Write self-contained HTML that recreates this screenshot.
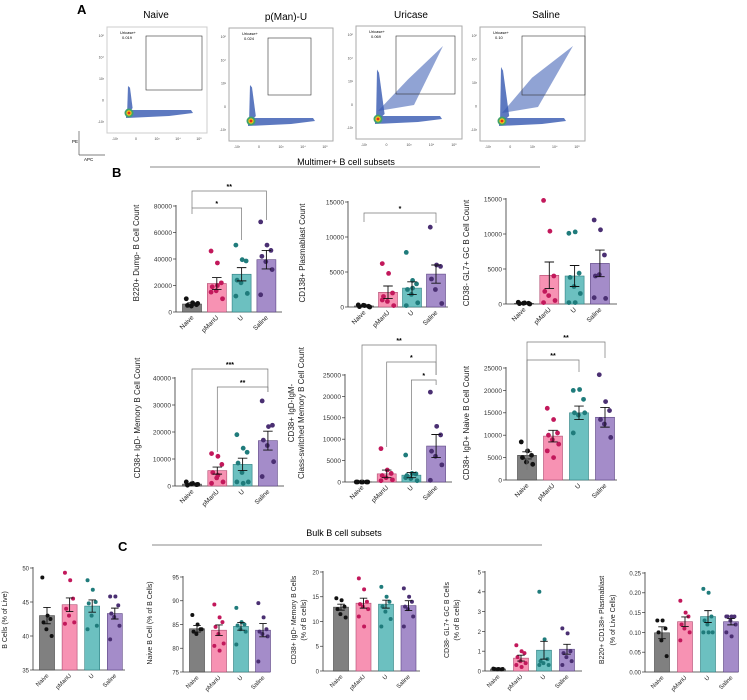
<!DOCTYPE html>
<html><head><meta charset="utf-8">
<style>
html,body{margin:0;padding:0;background:#fff;}
svg{display:block;font-family:"Liberation Sans",Arial,sans-serif;}
</style></head>
<body>
<svg id="fig" width="747" height="700" viewBox="0 0 747 700" xmlns="http://www.w3.org/2000/svg">
<g>
<text x="77" y="14" font-size="13" font-weight="bold">A</text>
<text x="156" y="18" font-size="10" text-anchor="middle">Naive</text>
<text x="286" y="20" font-size="10" text-anchor="middle">p(Man)-U</text>
<text x="411" y="18" font-size="10" text-anchor="middle">Uricase</text>
<text x="546" y="18" font-size="10" text-anchor="middle">Saline</text>
<g id="flows"></g>
<g>
<line x1="79" y1="131" x2="79" y2="155" stroke="#555" stroke-width="0.7"/>
<line x1="79" y1="155" x2="105" y2="155" stroke="#555" stroke-width="0.7"/>
<text x="72" y="143" font-size="4.5">PE</text>
<text x="84" y="161" font-size="4.5">APC</text>
</g>
<text x="346" y="165" font-size="9" text-anchor="middle">Multimer+ B cell subsets</text>
<line x1="150" y1="167" x2="540" y2="167" stroke="#888" stroke-width="1"/>
</g>
<text x="112" y="177" font-size="13" font-weight="bold">B</text>
<text x="344" y="536" font-size="9" text-anchor="middle">Bulk B cell subsets</text>
<line x1="152" y1="545" x2="542" y2="545" stroke="#888" stroke-width="1"/>
<text x="118" y="551" font-size="13" font-weight="bold">C</text>
<g id="charts"></g>
</svg>
<script>
const groups = ["Naive","pManU","U","Saline"];
const b1Means = [6000,21500,28500,39500];
const b1Errs = [900,4500,5000,7000];
const b1Points = [[10000,7000,5500,5000,4500,6500],[46000,37000,22000,19000,16000,10000,15000,20000],[50500,39500,38500,24000,22000,14000,12000],[68000,50500,46500,42000,38000,32000,13000]];
const b1Ticks = [0,20000,40000,60000,80000];
const b2Means = [150,2100,2700,4700];
const b2Errs = [60,900,900,1300];
const b2Points = [[300,200,100,50,250,0],[6200,4800,2000,1500,800,200,1000],[7800,3800,3300,2500,1800,600,200,2700],[11400,6000,5800,4000,2500,500]];
const b2Ticks = [0,5000,10000,15000];
const b3Means = [100,4100,4000,5800];
const b3Errs = [60,1900,1500,1900];
const b3Points = [[250,150,100,50,100,0],[14800,10400,4000,1800,1200,500,200],[10100,10300,4400,3800,2500,1500,200,200],[12000,10600,7000,4000,4200,800,900]];
const b3Ticks = [0,5000,10000,15000];
const b4Means = [700,5700,8000,16800];
const b4Errs = [200,1300,2300,3500];
const b4Points = [[1500,1000,500,300,800,600],[12000,11000,8000,5000,3000,1500,1000,4000],[19000,14000,12500,8500,5000,1500,1500,1000],[31500,22000,22500,17000,15000,9000,3500]];
const b4Ticks = [0,10000,20000,30000,40000];
const b5Means = [50,1900,1600,8400];
const b5Errs = [20,900,600,2700];
const b5Points = [[0,0,0,0,0,0],[7800,2800,2000,1500,1000,500,300],[6300,2000,1900,1500,800,300,1000],[21000,13000,11000,7200,6000,4000,400]];
const b5Ticks = [0,5000,10000,15000,20000,25000];
const b6Means = [5500,9800,15000,14000];
const b6Errs = [800,1300,1500,2200];
const b6Points = [[8500,6500,5500,5000,4000,3500],[16000,13500,10500,10000,9000,8000,6500,5000],[20000,20200,18000,15000,14500,15000,10500],[23500,17500,15500,13500,12500,9500]];
const b6Ticks = [0,5000,10000,15000,20000,25000];
const c1Means = [43,44.6,44.4,43.3];
const c1Errs = [1.2,1.0,0.9,0.8];
const c1Points = [[48.6,43,42.5,42,41,40],[49.3,48.2,45.5,44,43,42,41.8],[48.2,46.8,45,44.8,43,41.5,41],[45.8,45.8,44.5,43.3,42.8,41.5,39.5]];
const c1Ticks = [35,40,45,50];
const c2Means = [84.1,83.8,84.6,83.8];
const c2Errs = [0.7,1.1,0.8,1.4];
const c2Points = [[87,85,84,83.5,83,84],[89.2,86.5,85.5,84.5,83,81,80.5,79.5],[88.5,85.5,85,84.8,84,83.5,80.8],[89.5,86.5,84,83.5,83,82.5,77.2]];
const c2Ticks = [75,80,85,90,95];
const c3Means = [12.9,13.7,13.5,13.2];
const c3Errs = [0.6,1.0,0.8,1.0];
const c3Points = [[14.7,14.3,13,12.5,11.5,10.8],[18.7,16.5,14,13.5,13,12.5,11,9],[17,15,14,13,12,10.5,9],[16.7,15,14,13,12.5,11,9]];
const c3Ticks = [0,5,10,15,20];
const c4Means = [0.1,0.65,1.05,1.1];
const c4Errs = [0.02,0.15,0.45,0.25];
const c4Points = [[0.12,0.1,0.08,0.1,0.09,0.1],[1.3,1.0,0.9,0.7,0.5,0.4,0.3,0.2],[4,1.6,0.6,0.5,0.4,0.3,0.3],[2.15,1.9,1.0,0.9,0.7,0.5,0.3]];
const c4Ticks = [0,1,2,3,4,5];
const c5Means = [0.099,0.127,0.14,0.127];
const c5Errs = [0.015,0.012,0.015,0.008];
const c5Points = [[0.13,0.13,0.11,0.1,0.08,0.04],[0.18,0.15,0.14,0.12,0.11,0.1,0.08],[0.21,0.2,0.14,0.13,0.12,0.1,0.1,0.1],[0.14,0.14,0.14,0.14,0.13,0.12,0.1,0.09]];
const c5Ticks = ["0.00","0.05","0.10","0.15","0.20","0.25"];

const barFill = ["#808080","#f792b3","#6cc0c0","#a48cc9"];
const barStroke = ["#444","#b04a70","#2e7f80","#5a4382"];
const dotFill = ["#111","#c2185b","#1f7b7b","#4a2f72"];

const NS = "http://www.w3.org/2000/svg";
function el(tag, attrs, parent){
  const e = document.createElementNS(NS, tag);
  for (const k in attrs) e.setAttribute(k, attrs[k]);
  if (parent) parent.appendChild(e);
  return e;
}
const root = document.getElementById("charts");

function chart(o, means, errs, pts, ticks){
  const g = el("g", {}, root);
  
  
  const tv = ticks.map(Number);
  const lo = tv[0], hi = tv[tv.length-1];
  const y = v => o.y0 - (v - lo) / (hi - lo) * (o.y0 - o.yTop);
  const cx = i => o.x0 + o.first + i * o.step;
  const ax = el("line", {x1:o.x0, y1:o.yTop-1, x2:o.x0, y2:o.y0, stroke:"#333","stroke-width":0.8}, g);
  
  
  const bx = el("line", {x1:o.x0, y1:o.y0, x2:o.xEnd, y2:o.y0, stroke:"#333","stroke-width":0.8}, g);
  
  
  ticks.forEach((t, k) => {
    const yy = y(tv[k]);
    el("line", {x1:o.x0-3, y1:yy, x2:o.x0, y2:yy, stroke:"#333","stroke-width":0.7}, g);
    const tt = el("text", {x:o.x0-4, y:yy+2.4, "font-size":o.fs, "text-anchor":"end", fill:"#333"}, g);
    tt.textContent = t;
    
    
  });
  o.ylabel.forEach((ln, k) => {
    const lx = o.lx + k * o.lgap;
    const t = el("text", {x:lx, y:o.ly, "font-size":o.lfs, "text-anchor":"middle", fill:"#222", transform:"rotate(-90 "+lx+" "+o.ly+")"}, g);
    t.textContent = ln;
    
    
  });
  groups.forEach((gn, i) => {
    const c = cx(i);
    const top = y(means[i]);
    const r = el("rect", {x:c-o.bw/2, y:top, width:o.bw, height:o.y0-top, fill:barFill[i], stroke:barStroke[i], "stroke-width":0.6}, g);
    
    
    pts[i].forEach((v, k) => {
      const off = ((k % 3) - 1) * o.bw * 0.27 + (k % 2 ? 1 : -1) * 0.6;
      const d = el("circle", {cx:c+off, cy:y(v), r:o.pr, fill:dotFill[i]}, g);
      
      
    });
    const e1 = y(means[i] + errs[i]), e2 = y(means[i] - errs[i]);
    const eb = el("path", {d:"M"+c+" "+e1+"V"+e2+"M"+(c-o.bw*0.25)+" "+e1+"H"+(c+o.bw*0.25)+"M"+(c-o.bw*0.25)+" "+e2+"H"+(c+o.bw*0.25), stroke:"#111","stroke-width":0.9, fill:"none"}, g);
    
    
    const lx = c + 2, ly = o.y0 + 6;
    const xt = el("text", {x:lx, y:ly, "font-size":o.fs, "text-anchor":"end", fill:"#222", transform:"rotate(-45 "+lx+" "+ly+")"}, g);
    xt.textContent = gn;
    
    
  });
  (o.brackets || []).forEach(b => {
    const x1 = cx(b[0]), x2 = cx(b[1]);
    const bp = el("path", {d:"M"+x1+" "+b[3]+"V"+b[2]+"H"+x2+"V"+b[4], stroke:"#777","stroke-width":0.7, fill:"none"}, g);
    
    
    const st = el("text", {x:(x1+x2)/2, y:b[2]-2, "font-size":7, "font-weight":"bold", "text-anchor":"middle"}, g);
    st.textContent = b[5];
    
    
  });
}

const B = {fs:6.5, lfs:8, bw:19, pr:2.4, step:24.8, first:16};
chart(Object.assign({}, B, {name:"chart-b220-count", x0:176, xEnd:282, y0:312, yTop:206, lx:139, lgap:0, ly:253, ylabel:["B220+ Dump- B Cell Count"],
  brackets:[[0,3,191,208,220,"**"],[0,2,208,214,240,"*"]]}), b1Means, b1Errs, b1Points, b1Ticks);
chart(Object.assign({}, B, {name:"chart-plasmablast-count", x0:348, xEnd:448, y0:307, yTop:202, lx:305, lgap:0, ly:253, ylabel:["CD138+  Plasmablast Count"],
  brackets:[[0,3,213,222,223,"*"]], step:24}), b2Means, b2Errs, b2Points, b2Ticks);
chart(Object.assign({}, B, {name:"chart-gc-count", x0:506, xEnd:617, y0:304, yTop:199, lx:469, lgap:0, ly:253, ylabel:["CD38- GL7+ GC B Cell Count"], first:18, step:25.3}), b3Means, b3Errs, b3Points, b3Ticks);
chart(Object.assign({}, B, {name:"chart-memory-count", x0:175, xEnd:284, y0:486, yTop:378, lx:140, lgap:0, ly:418, ylabel:["CD38+ IgD-  Memory  B Cell Count"],
  first:17, step:25.3, brackets:[[0,3,369,482,392,"***"],[1,3,387,452,392,"**"]]}), b4Means, b4Errs, b4Points, b4Ticks);
chart(Object.assign({}, B, {name:"chart-class-switched-count", x0:345, xEnd:452, y0:482, yTop:375, lx:294, lgap:10, ly:413, ylabel:["CD38+ IgD-IgM-","Class-switched Memory B Cell Count"],
  first:17, step:24.7, brackets:[[0,3,345,481,375,"**"],[1,3,362,447,375,"*"],[2,3,380,470,385,"*"]]}), b5Means, b5Errs, b5Points, b5Ticks);
chart(Object.assign({}, B, {name:"chart-naive-count", x0:506, xEnd:617, y0:480, yTop:368, lx:469, lgap:0, ly:423, ylabel:["CD38+ IgD+ Naive B Cell Count"],
  first:21, step:26, brackets:[[0,3,342,470,358,"**"],[0,2,360,470,372,"**"]]}), b6Means, b6Errs, b6Points, b6Ticks);

const C = {fs:6, lfs:7, bw:15, pr:2, step:22.6};
chart(Object.assign({}, C, {name:"chart-b-cells-percent", x0:33, xEnd:125, y0:670, yTop:568, first:14, lx:7, lgap:0, ly:620, ylabel:["B Cells  (% of Live)"]}), c1Means, c1Errs, c1Points, c1Ticks);
chart(Object.assign({}, C, {name:"chart-naive-b-percent", x0:183, xEnd:270, y0:672, yTop:577, first:14, step:22, lx:152, lgap:0, ly:623, ylabel:["Naive B Cell (% of  B Cells)"]}), c2Means, c2Errs, c2Points, c2Ticks);
chart(Object.assign({}, C, {name:"chart-memory-percent", x0:323, xEnd:420, y0:671, yTop:572, first:18, step:22.5, lx:296, lgap:10, ly:620, ylabel:["CD38+ IgD- Memory B Cells","(% of B cells)"]}), c3Means, c3Errs, c3Points, c3Ticks);
chart(Object.assign({}, C, {name:"chart-gc-percent", x0:485, xEnd:582, y0:671, yTop:572, first:13, step:23, lx:449, lgap:10, ly:620, ylabel:["CD38- GL7+  GC B Cells","(% of B cells)"]}), c4Means, c4Errs, c4Points, c4Ticks);
chart(Object.assign({}, C, {name:"chart-plasmablast-percent", x0:645, xEnd:738, y0:672, yTop:573, first:17, step:23, lx:604, lgap:11, ly:620, ylabel:["B220+ CD138+ Plasmablast","(% of Live Cells)"]}), c5Means, c5Errs, c5Points, c5Ticks);

// ---------- flow plots (illustrative density shapes) ----------
const flowNames = ["Naive","p(Man)-U","Uricase","Saline"];
const flowFreq = ["0.019","0.024","0.069","0.10"];
const flowBox = [[107,27,100,106],[229,28,104,113],[356,26,106,113],[480,27,105,114]];
const flowGate = [[146,36,56,54],[268,38,43,57],[396,36,59,58],[522,36,63,59]];
const fl = document.getElementById("flows");
flowBox.forEach((b, i) => {
  const g = el("g", {}, fl);
  
  
  el("rect", {x:b[0], y:b[1], width:b[2], height:b[3], fill:"#fff", stroke:i?"#aaa":"#ccc","stroke-width":1}, g);
  const gt = flowGate[i];
  const cx0 = b[0] + 22, cy0 = b[1] + b[3] - 20;
  const spread = [0.6,0.8,1.1,1.2][i];
  el("path", {d:"M"+(cx0-2)+" "+(cy0+3)+" L"+(cx0-1)+" "+(cy0-45*spread)+" L"+(cx0+1)+" "+(cy0-42*spread)+" L"+(cx0+6*spread)+" "+(cy0-5)+" Z", fill:"#3458b0", opacity:0.8}, g);
  el("path", {d:"M"+(cx0-3)+" "+(cy0-3)+" L"+(cx0+62)+" "+(cy0-3)+" L"+(cx0+64)+" "+(cy0)+" L"+(cx0+40)+" "+(cy0+3)+" L"+(cx0-3)+" "+(cy0+5)+" Z", fill:"#3458b0", opacity:0.8}, g);
  if (i >= 2) el("path", {d:"M"+(cx0)+" "+(cy0-8)+" L"+(cx0+30)+" "+(cy0-36*spread)+" L"+(gt[0]+gt[2]-12)+" "+(gt[1]+10)+" L"+(cx0+36)+" "+(cy0-14)+" Z", fill:"#3458b0", opacity:0.55}, g);
  el("ellipse", {cx:cx0, cy:cy0, rx:4.5, ry:4.5, fill:"#3fa36b"}, g);
  el("ellipse", {cx:cx0, cy:cy0, rx:2.7, ry:2.7, fill:"#f2c318"}, g);
  el("ellipse", {cx:cx0, cy:cy0, rx:1.4, ry:1.4, fill:"#e0301e"}, g);
  const gr = el("rect", {x:gt[0], y:gt[1], width:gt[2], height:gt[3], fill:"none", stroke:"#333","stroke-width":0.6}, g);
  
  
  const t1 = el("text", {x:b[0]+13, y:b[1]+7, "font-size":4}, g); t1.textContent = "Uricase+";
  const t2 = el("text", {x:b[0]+15, y:b[1]+12, "font-size":4}, g); t2.textContent = flowFreq[i];
  ["10⁵","10⁴","10³","0","-10³"].forEach((s, k) => {
    const tt = el("text", {x:b[0]-3, y:b[1]+10+k*(b[3]-20)/4, "font-size":3.5, "text-anchor":"end", fill:"#444"}, g);
    tt.textContent = s;
  });
  ["-10³","0","10³","10⁴","10⁵"].forEach((s, k) => {
    const tt = el("text", {x:b[0]+8+k*(b[2]-16)/4, y:b[1]+b[3]+7, "font-size":3.5, "text-anchor":"middle", fill:"#444"}, g);
    tt.textContent = s;
  });
});
</script>
</body></html>
